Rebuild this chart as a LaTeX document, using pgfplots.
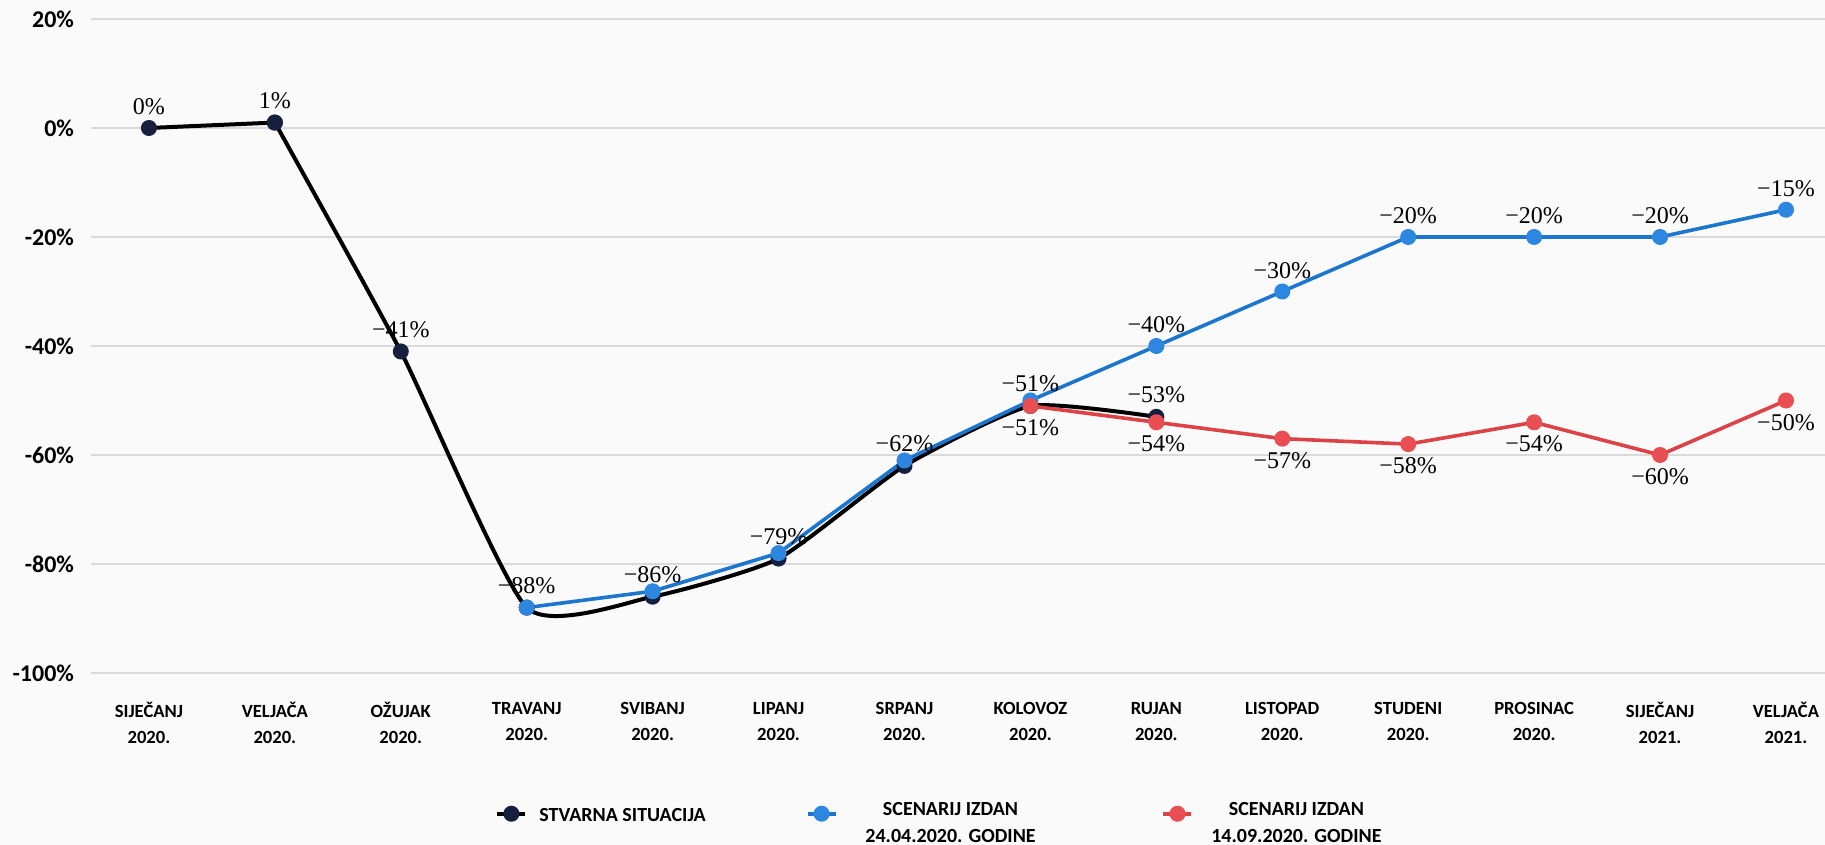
\documentclass[border=0pt]{standalone}
\usepackage{pgfplots}
\pgfplotsset{compat=1.18}
\usepackage{fontspec}
\setmainfont{Carlito}
\newfontfamily\lblfont{Liberation Serif}
\definecolor{bgc}{RGB}{250,250,250}
\definecolor{gridc}{RGB}{218,218,218}
\definecolor{navy}{RGB}{20,32,62}
\definecolor{sblue}{RGB}{28,118,205}
\definecolor{sbluem}{RGB}{45,135,225}
\definecolor{sred}{RGB}{220,66,70}
\definecolor{sredm}{RGB}{232,78,82}
\begin{document}
\begin{tikzpicture}
\fill[bgc] (0,0) rectangle (912.5pt,422.5pt);
\begin{axis}[
  at={(45.5pt,86pt)}, anchor=south west,
  scale only axis, width=867pt, height=327pt,
  xmin=-0.46, xmax=13.31, ymin=-100, ymax=20,
  axis line style={draw=none}, tick style={draw=none},
  major tick length=0pt,
  ytick={-100,-80,-60,-40,-20,0,20},
  yticklabels={-100\%,-80\%,-60\%,-40\%,-20\%,0\%,20\%},
  yticklabel style={font=\bfseries\fontsize{12}{14}\selectfont, xshift=-5pt},
  ymajorgrids, grid style={gridc, line width=1pt},
  xtick={0,...,13},
  xticklabels={{SIJEČANJ\\2020.},{VELJAČA\\2020.},{OŽUJAK\\2020.},{TRAVANJ\\2020.},{SVIBANJ\\2020.},{LIPANJ\\2020.},{SRPANJ\\2020.},{KOLOVOZ\\2020.},{RUJAN\\2020.},{LISTOPAD\\2020.},{STUDENI\\2020.},{PROSINAC\\2020.},{SIJEČANJ\\2021.},{VELJAČA\\2021.}},
  xticklabel style={align=center, font=\bfseries\fontsize{9.3}{13}\selectfont, yshift=-11pt},
  point meta=explicit symbolic,
  every node near coord/.append style={font=\lblfont\fontsize{12}{14}\selectfont, text=black},
  legend style={at={(0.2295,-0.2152)}, anchor=west, legend columns=3, draw=none, fill=none,
    font=\bfseries\fontsize{10}{13.5}\selectfont,
    /tikz/column 1/.style={column sep=4pt},
    /tikz/column 2/.style={column sep=48pt},
    /tikz/column 3/.style={column sep=12pt},
    /tikz/column 4/.style={column sep=61pt},
    /tikz/column 5/.style={column sep=7pt}},
  legend cell align=left,
  legend image code/.code={\draw[mark repeat=2,mark phase=2,#1] plot coordinates {(0pt,0pt) (7pt,0pt) (14pt,0pt)};},
]
% Stvarna situacija: straight part
\addplot[black, line width=2pt, mark=*, mark size=3.5pt, mark options={fill=navy, draw=navy, line width=1pt},
  nodes near coords, nodes near coords align={above}, every node near coord/.append style={yshift=3pt}]
  coordinates {(0,0)[0\%] (1,1)[1\%]};
\addlegendentry{\begin{tabular}{@{}l@{}}STVARNA SITUACIJA\end{tabular}}
% Stvarna situacija: curved part
\addplot[black, line width=2pt, smooth, tension=0.33, mark=*, mark size=3.5pt, mark options={fill=navy, draw=navy, line width=1pt},
  forget plot, nodes near coords, nodes near coords align={above}, every node near coord/.append style={yshift=3pt}]
  coordinates {(1,1)[{}] (2,-41)[−41\%] (3,-88)[−88\%] (4,-86)[−86\%] (5,-79)[−79\%] (6,-62)[−62\%] (7,-51)[−51\%] (8,-53)[−53\%]};
% Scenarij 24.04.2020
\addplot[sblue, line width=1.8pt, mark=*, mark size=3.5pt, mark options={fill=sbluem, draw=sbluem, line width=1pt}]
  coordinates {(3,-88) (4,-85) (5,-78) (6,-61) (7,-50) (8,-40) (9,-30) (10,-20) (11,-20) (12,-20) (13,-15)};
\addlegendentry{\begin{tabular}{@{}c@{}}SCENARIJ IZDAN\\24.04.2020. GODINE\end{tabular}}
% Scenarij 14.09.2020
\addplot[sred, line width=1.8pt, mark=*, mark size=3.5pt, mark options={fill=sredm, draw=sredm, line width=1pt},
  nodes near coords, nodes near coords align={below}, every node near coord/.append style={yshift=-3pt}]
  coordinates {(7,-51)[−51\%] (8,-54)[−54\%] (9,-57)[−57\%] (10,-58)[−58\%] (11,-54)[−54\%] (12,-60)[−60\%] (13,-50)[−50\%]};
\addlegendentry{\begin{tabular}{@{}c@{}}SCENARIJ IZDAN\\14.09.2020. GODINE\end{tabular}}
% labels of blue scenario
\addplot[draw=none, mark=none, forget plot, nodes near coords, nodes near coords align={above}, every node near coord/.append style={yshift=3pt}]
  coordinates {(8,-40)[−40\%] (9,-30)[−30\%] (10,-20)[−20\%] (11,-20)[−20\%] (12,-20)[−20\%] (13,-15)[−15\%]};
\end{axis}
\pgfresetboundingbox
\path[use as bounding box] (0,0) rectangle (912.5pt,422.5pt);
\end{tikzpicture}
\end{document}
